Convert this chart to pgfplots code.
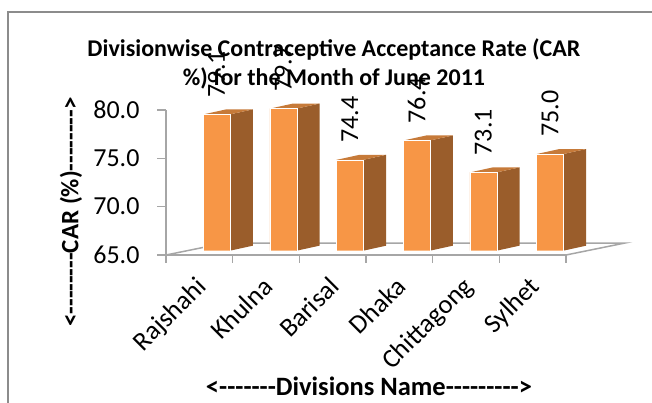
\documentclass[border=0pt]{standalone}
\usepackage{fontspec}
\setmainfont[Ligatures=TeXOff]{Carlito}
\usepackage{pgfplots}
\usepackage{pgfplotstable}
\pgfplotsset{compat=1.18}

\definecolor{barfront}{HTML}{F79646}
\definecolor{barside}{HTML}{9A5D2B}
\definecolor{bartop}{HTML}{C67A39}
\definecolor{axisgray}{HTML}{A6A6A6}
\definecolor{framegray}{HTML}{8C8C8C}

\pgfplotstableread{
x car
0 79.1
1 79.7
2 74.4
3 76.4
4 73.1
5 75.0
}\cardata

\begin{document}
\begin{tikzpicture}[x=1pt,y=1pt]
    \path[use as bounding box] (0,0) rectangle (652,403);
    \draw[framegray, line width=1.5pt] (8,0) -- (8,391) -- (652,391);

    % front plane: axes, ticks and text
    \begin{axis}[
        at={(166pt,148pt)}, anchor=south west,
        scale only axis, width=400pt, height=145pt,
        xmin=-0.5, xmax=5.5, ymin=65, ymax=80,
        clip=false,
        axis y line*=left, axis x line*=bottom,
        axis line style={axisgray, line width=1.5pt},
        tick align=outside,
        every tick/.style={axisgray, line width=1.5pt},
        ytick={65,70,75,80},
        xtick={0,1,2,3,4,5},
        xticklabels={Rajshahi,Khulna,Barisal,Dhaka,Chittagong,Sylhet},
        minor xtick={-0.5,0.5,1.5,2.5,3.5,4.5,5.5},
        major x tick style={draw=none},
        major tick length=9pt, minor tick length=8pt,
        /pgf/number format/assume math mode=true,
        yticklabel style={font=\fontsize{26}{26}\selectfont, xshift=-14pt, /pgf/number format/.cd, fixed, fixed zerofill, precision=1},
        xticklabel style={font=\fontsize{26.5}{26.5}\selectfont, xshift=-5pt, yshift=-6.2pt, rotate=45, anchor=north east},
        title={Divisionwise Contraceptive Acceptance Rate (CAR\\\%) for the Month of June 2011},
        title style={font=\fontsize{24}{29}\selectfont\bfseries, align=center, at={(axis description cs:0.42,1.076)}, anchor=south},
        xlabel={<-------Divisions Name--------->},
        xlabel style={font=\fontsize{26.5}{26.5}\selectfont\bfseries, at={(axis description cs:0.5075,-0.903)}, anchor=center},
        ylabel={<--------CAR (\%)-------->},
        ylabel style={font=\fontsize{25}{25}\selectfont\bfseries, at={(axis description cs:-0.2375,0.296)}, anchor=center},
    ]
        % floor of the 3D box
        \addplot[axisgray, line width=1.5pt] coordinates {(-0.5,65) (0.385,66.24) (6.385,66.24) (5.5,65)};
    \end{axis}

    % bars: the same scale, moved to where the 3D floor puts them
    \begin{axis}[
        at={(183.3pt,152.3pt)}, anchor=south west,
        scale only axis, width=400pt, height=145pt,
        xmin=-0.5, xmax=5.5, ymin=65, ymax=80,
        clip=false, hide axis,
    ]
        % side faces
        \addplot[fill=barside, draw=none] coordinates {(0.2,65) (0.544,65.52) (0.544,79.62) (0.2,79.1)} -- cycle;
        \addplot[fill=barside, draw=none] coordinates {(1.2,65) (1.544,65.52) (1.544,80.22) (1.2,79.7)} -- cycle;
        \addplot[fill=barside, draw=none] coordinates {(2.2,65) (2.544,65.52) (2.544,74.92) (2.2,74.4)} -- cycle;
        \addplot[fill=barside, draw=none] coordinates {(3.2,65) (3.544,65.52) (3.544,76.92) (3.2,76.4)} -- cycle;
        \addplot[fill=barside, draw=none] coordinates {(4.2,65) (4.544,65.52) (4.544,73.62) (4.2,73.1)} -- cycle;
        \addplot[fill=barside, draw=none] coordinates {(5.2,65) (5.544,65.52) (5.544,75.52) (5.2,75.0)} -- cycle;
        % top faces
        \addplot[fill=bartop, draw=none] coordinates {(-0.2,79.1) (0.2,79.1) (0.544,79.62) (0.144,79.62)} -- cycle;
        \addplot[fill=bartop, draw=none] coordinates {(0.8,79.7) (1.2,79.7) (1.544,80.22) (1.144,80.22)} -- cycle;
        \addplot[fill=bartop, draw=none] coordinates {(1.8,74.4) (2.2,74.4) (2.544,74.92) (2.144,74.92)} -- cycle;
        \addplot[fill=bartop, draw=none] coordinates {(2.8,76.4) (3.2,76.4) (3.544,76.92) (3.144,76.92)} -- cycle;
        \addplot[fill=bartop, draw=none] coordinates {(3.8,73.1) (4.2,73.1) (4.544,73.62) (4.144,73.62)} -- cycle;
        \addplot[fill=bartop, draw=none] coordinates {(4.8,75.0) (5.2,75.0) (5.544,75.52) (5.144,75.52)} -- cycle;
        % front faces with the value labels
        \addplot[ybar, bar width=27pt, fill=barfront, draw=white, line width=0.3pt,
            nodes near coords,
            nodes near coords style={font=\fontsize{26}{26}\selectfont, black, rotate=90, anchor=west, inner sep=0pt, xshift=17pt,
                /pgf/number format/.cd, fixed, fixed zerofill, precision=1, assume math mode=true},
        ] table[x=x, y=car] {\cardata};
    \end{axis}
\end{tikzpicture}
\end{document}
